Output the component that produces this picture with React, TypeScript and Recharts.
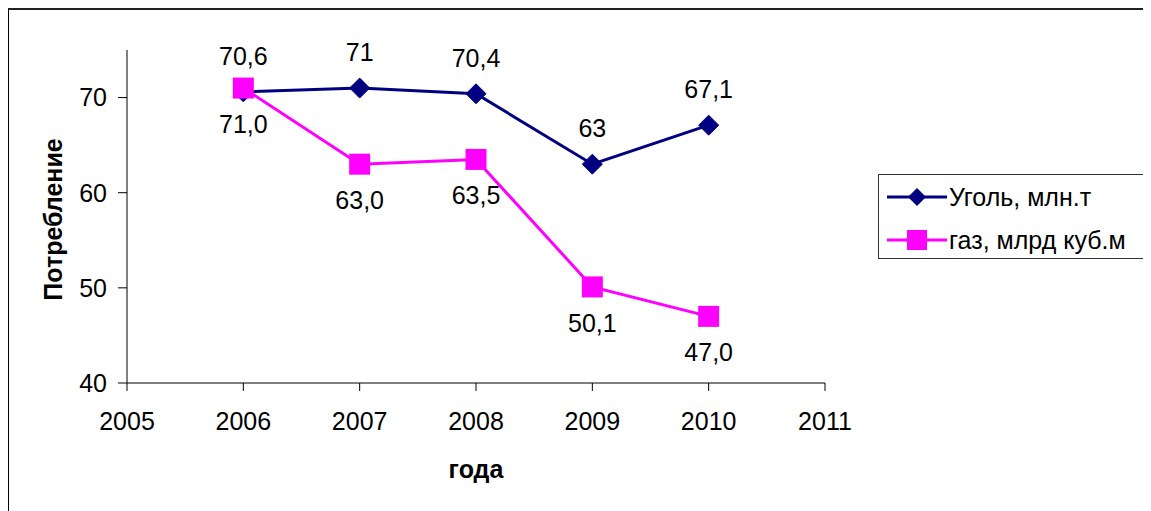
import React from 'react';
import { LineChart, Line, XAxis, YAxis, Legend, LabelList, Label } from 'recharts';

const years = [2006, 2007, 2008, 2009, 2010];
const coal = [70.6, 71, 70.4, 63, 67.1];
const gas = [71.0, 63.0, 63.5, 50.1, 47.0];
const xTicks = [2005, 2006, 2007, 2008, 2009, 2010, 2011];
const yTicks = [40, 50, 60, 70];
const coalName = 'Уголь, млн.т';
const gasName = 'газ, млрд куб.м';
const xTitle = 'года';
const yTitle = 'Потребление';

const data = years.map((y, i) => ({ year: y, coal: coal[i], gas: gas[i] }));

const FONT = '"Liberation Sans", Arial, sans-serif';
const FS = 25;
const COAL_C = '#000080';
const GAS_C = '#FF00FF';

const fmtCoal = (v: number) => String(v).replace('.', ',');
const fmtGas = (v: number) => v.toFixed(1).replace('.', ',');

const Diamond = (props: any) => {
  const { cx, cy, key } = props;
  if (cx == null || cy == null) return null;
  const r = 10;
  return (
    <polygon
      key={key}
      points={`${cx},${cy - r} ${cx + r},${cy} ${cx},${cy + r} ${cx - r},${cy}`}
      fill={COAL_C}
      stroke={COAL_C}
    />
  );
};

const Square = (props: any) => {
  const { cx, cy, key } = props;
  if (cx == null || cy == null) return null;
  const h = 10.5;
  return <rect key={key} x={cx - h} y={cy - h} width={2 * h} height={2 * h} fill={GAS_C} />;
};

const makeLabel = (dy: number, fmt: (v: number) => string) => (props: any) => {
  const { x, y, value } = props;
  return (
    <text
      x={x}
      y={y + dy}
      textAnchor="middle"
      dominantBaseline="central"
      fontSize={FS}
      fontFamily={FONT}
      fill="#000"
    >
      {fmt(Number(value))}
    </text>
  );
};

const LegendContent = () => {
  const rows = [
    { name: coalName, color: COAL_C, shape: 'diamond' },
    { name: gasName, color: GAS_C, shape: 'square' },
  ];
  return (
    <div
      style={{
        width: 266,
        height: 83,
        border: '1px solid #333',
        background: '#fff',
        fontFamily: FONT,
        fontSize: FS,
        color: '#000',
        boxSizing: 'content-box',
      }}
    >
      {rows.map((r, i) => (
        <div
          key={r.name}
          style={{
            position: 'absolute',
            left: 9,
            top: i === 0 ? 9 : 52,
            height: 28,
            display: 'flex',
            alignItems: 'center',
            whiteSpace: 'nowrap',
          }}
        >
          <svg width={60} height={28} style={{ display: 'block' }}>
            <line x1={0} y1={14} x2={60} y2={14} stroke={r.color} strokeWidth={3} />
            {r.shape === 'diamond' ? (
              <polygon points="30,5 39,14 30,23 21,14" fill={r.color} />
            ) : (
              <rect x={20} y={4} width={20} height={20} fill={r.color} />
            )}
          </svg>
          <span style={{ marginLeft: 2, lineHeight: '28px' }}>{r.name}</span>
        </div>
      ))}
    </div>
  );
};

export default function App() {
  return (
    <div
      style={{
        width: 1142,
        height: 501,
        borderLeft: '1px solid #000',
        borderTop: '2px solid #222',
        overflow: 'hidden',
        position: 'relative',
        background: '#fff',
      }}
    >
      <LineChart
        width={1134}
        height={500}
        data={data}
        margin={{ top: 40, right: 318, left: 0, bottom: 0 }}
        style={{ fontFamily: FONT }}
      >
        <XAxis
          dataKey="year"
          type="number"
          domain={[2005, 2011]}
          ticks={xTicks}
          height={127}
          tickSize={8}
          tickMargin={21}
          stroke="#000"
          tick={{ fill: '#000', fontSize: FS, fontFamily: FONT }}
          allowDecimals={false}
        >
          <Label
            content={(p: any) => {
              const vb = p.viewBox || {};
              return (
                <text
                  x={vb.x + vb.width / 2}
                  y={vb.y + 86}
                  textAnchor="middle"
                  dominantBaseline="central"
                  fontSize={FS}
                  fontWeight="bold"
                  fontFamily={FONT}
                  fill="#000"
                >
                  {xTitle}
                </text>
              );
            }}
          />
        </XAxis>
        <YAxis
          type="number"
          domain={[40, 75]}
          ticks={yTicks}
          width={118}
          tickSize={9}
          tickMargin={11}
          stroke="#000"
          tick={{ fill: '#000', fontSize: FS, fontFamily: FONT }}
        >
          <Label
            content={(p: any) => {
              const vb = p.viewBox || {};
              const cx = vb.x + 44;
              const cy = vb.y + vb.height / 2 + 3;
              return (
                <text
                  x={cx}
                  y={cy}
                  transform={`rotate(-90, ${cx}, ${cy})`}
                  textAnchor="middle"
                  dominantBaseline="central"
                  fontSize={FS}
                  fontWeight="bold"
                  fontFamily={FONT}
                  fill="#000"
                >
                  {yTitle}
                </text>
              );
            }}
          />
        </YAxis>
        <Legend
          layout="horizontal"
          verticalAlign="middle"
          align="center"
          content={<LegendContent />}
          wrapperStyle={{ position: 'absolute', left: 869, top: 164, width: 268, height: 85 }}
        />
        <Line
          dataKey="coal"
          name={coalName}
          stroke={COAL_C}
          strokeWidth={3}
          dot={Diamond}
          activeDot={false}
          isAnimationActive={false}
        >
          <LabelList dataKey="coal" content={makeLabel(-36, fmtCoal)} />
        </Line>
        <Line
          dataKey="gas"
          name={gasName}
          stroke={GAS_C}
          strokeWidth={3}
          dot={Square}
          activeDot={false}
          isAnimationActive={false}
        >
          <LabelList dataKey="gas" content={makeLabel(36, fmtGas)} />
        </Line>
      </LineChart>
    </div>
  );
}
